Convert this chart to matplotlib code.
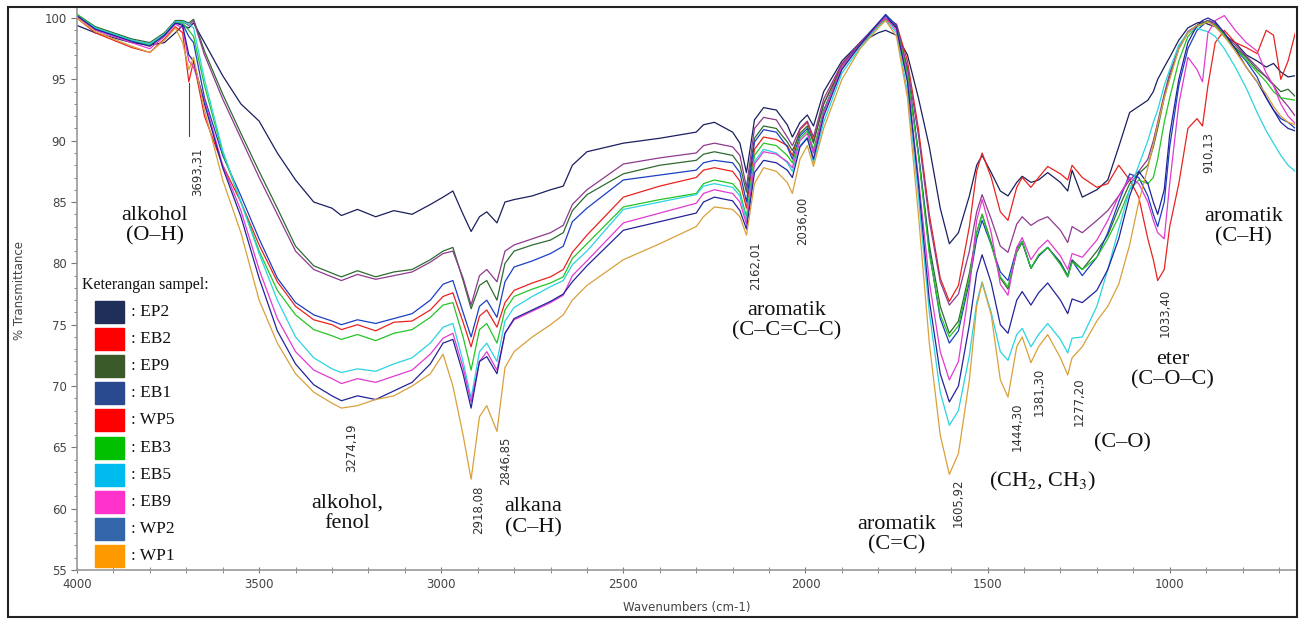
import matplotlib
matplotlib.use("Agg")
import matplotlib.pyplot as plt
from matplotlib.patches import Rectangle
from matplotlib.ticker import MultipleLocator

# wavenumber grid (cm-1)
wavenumber = [
    4000, 3950, 3900, 3850, 3800, 3760, 3730, 3710, 3693, 3680,
    3650, 3600, 3550, 3500, 3450, 3400, 3350, 3300, 3274, 3230,
    3180, 3130, 3080, 3030, 2995, 2968, 2940, 2918, 2895, 2875,
    2847, 2825, 2800, 2750, 2700, 2665, 2640, 2600, 2500, 2400,
    2300, 2280, 2250, 2200, 2180, 2162, 2140, 2115, 2080, 2050,
    2036, 2015, 1995, 1978, 1950, 1900, 1850, 1800, 1780, 1750,
    1720, 1690, 1660, 1630, 1605, 1580, 1550, 1530, 1515, 1490,
    1465, 1444, 1420, 1405, 1381, 1360, 1335, 1300, 1280, 1268,
    1240, 1200, 1170, 1140, 1110, 1085, 1060, 1045, 1033, 1015,
    1000, 975, 950, 925, 910, 895, 875, 850, 820, 790,
    760, 735, 715, 695, 675, 655]

ep2 = [
    99.4, 98.8, 98.4, 98.0, 97.8, 98.0, 98.8, 99.4, 99.2, 99.6,
    98.0, 95.3, 93.0, 91.6, 89.0, 86.8, 85.0, 84.5, 83.9, 84.4,
    83.8, 84.3, 84.0, 84.8, 85.4, 85.9, 84.0, 82.6, 83.8, 84.2,
    83.3, 85.0, 85.2, 85.5, 86.0, 86.3, 88.0, 89.1, 89.8, 90.2,
    90.7, 91.3, 91.5, 90.7, 89.8, 87.4, 91.7, 92.7, 92.5, 91.3,
    90.3, 91.5, 92.1, 91.2, 94.0, 96.5, 98.0, 98.8, 99.0, 98.6,
    97.0, 93.5, 89.5, 84.5, 81.6, 82.5, 85.5, 88.0, 88.8, 87.4,
    85.9, 85.5, 86.6, 87.1, 86.6, 86.8, 87.4, 86.6, 85.9, 87.6,
    85.4, 86.0, 86.8, 89.5, 92.3, 92.8, 93.3, 94.0, 95.0, 96.0,
    96.8, 98.2, 99.2, 99.6, 99.7, 99.5, 99.3, 98.6, 98.0, 97.0,
    96.5, 96.0, 96.3, 95.6, 95.2, 95.3]

ep9 = [
    100.3, 99.3, 98.8, 98.3, 98.0, 98.8, 99.8, 99.8, 99.6, 99.9,
    97.3, 93.8, 90.6, 87.5, 84.5, 81.4, 79.8, 79.2, 78.9, 79.4,
    78.9, 79.3, 79.5, 80.3, 81.0, 81.3, 78.6, 76.3, 78.2, 78.6,
    77.0, 80.0, 81.0, 81.5, 81.9, 82.5, 84.3, 85.6, 87.3, 88.0,
    88.4, 88.9, 89.1, 88.8, 88.0, 85.8, 90.2, 91.2, 91.0, 89.9,
    89.2, 90.6, 91.2, 89.8, 93.0, 96.0, 97.8, 99.4, 99.9, 99.2,
    95.5, 89.0, 81.5, 76.5, 74.3, 75.3, 79.2, 82.5, 84.0, 81.7,
    78.8, 77.9, 80.9, 81.7, 79.6, 80.6, 81.3, 80.1, 79.0, 80.3,
    79.5, 81.0, 82.3, 84.5, 86.5, 87.3, 88.0, 89.5, 91.0, 93.5,
    95.2, 97.5, 98.8, 99.4, 99.6, 99.8, 99.4, 98.5, 97.6, 96.8,
    95.8, 95.2, 94.6, 94.0, 94.2, 93.6]

wp5 = [
    100.2, 99.2, 98.7, 98.2, 97.9, 98.7, 99.7, 99.7, 99.4, 99.8,
    97.0, 93.4, 90.2, 87.0, 84.0, 81.0, 79.5, 78.9, 78.6, 79.1,
    78.7, 79.0, 79.3, 80.1, 80.8, 81.0, 78.8, 76.6, 79.0, 79.5,
    78.5, 81.0, 81.5, 82.0, 82.5, 83.1, 84.8, 86.0, 88.1, 88.6,
    89.0, 89.6, 89.8, 89.5, 88.8, 86.2, 91.0, 91.9, 91.7, 90.3,
    89.6, 91.0, 91.6, 90.3, 93.4, 96.3, 98.0, 99.5, 100.0, 99.3,
    96.0, 90.5, 83.5, 78.5, 76.6, 77.5, 81.0, 84.2, 85.6, 83.6,
    81.4, 80.9, 83.2, 83.8, 83.1, 83.5, 83.8, 82.7, 81.7, 83.0,
    82.5, 83.5, 84.3, 85.5, 86.8, 87.5, 88.5, 90.0, 91.5, 93.8,
    95.5, 97.6, 98.9, 99.4, 99.5, 99.8, 99.5, 98.7, 97.8, 96.9,
    96.0, 95.2, 94.5, 93.5, 92.8, 92.0]

eb1 = [
    100.2, 99.1, 98.6, 98.2, 97.8, 98.6, 99.6, 99.5, 98.5, 98.0,
    93.5, 88.8, 85.5, 82.0, 78.8, 76.8, 75.8, 75.3, 75.0, 75.4,
    75.1, 75.5, 75.9, 77.0, 78.3, 78.6, 76.0, 74.0, 76.5, 77.0,
    75.6, 78.5, 79.7, 80.2, 80.8, 81.4, 83.4, 84.5, 86.8, 87.2,
    87.6, 88.2, 88.4, 88.2, 87.4, 85.0, 89.9, 90.9, 90.7, 89.5,
    88.5, 90.4, 91.0, 89.0, 92.5, 96.0, 98.0, 99.6, 100.3, 99.4,
    95.8, 89.0, 81.0, 75.5, 73.5, 74.5, 78.5, 82.0, 83.5, 81.5,
    79.3, 78.6, 81.2, 81.8, 79.6, 80.6, 81.3, 80.0, 78.9, 80.2,
    79.0, 80.5, 82.5, 85.0, 87.3, 87.0, 85.5, 84.0, 83.0, 85.0,
    89.5, 94.5, 97.5, 99.0, 99.4, 99.8, 99.6, 98.6, 97.5, 96.5,
    95.2, 93.5, 92.5, 91.8, 91.5, 91.0]

eb2 = [
    100.0, 98.8, 98.2, 97.6, 97.2, 98.3, 99.3, 98.8, 94.8, 96.5,
    92.0, 88.0, 85.0, 81.5, 78.5, 76.5, 75.4, 75.0, 74.6, 75.0,
    74.5, 75.2, 75.3, 76.2, 77.3, 77.6, 75.2, 73.2, 75.7, 76.2,
    74.8, 76.8, 77.8, 78.4, 78.9, 79.5, 80.9, 82.3, 85.4, 86.3,
    87.0, 87.6, 87.8, 87.5, 86.7, 84.5, 89.3, 90.3, 90.1, 89.6,
    88.8, 90.9, 91.5, 90.0, 93.0, 96.2, 98.0, 99.5, 100.0, 99.5,
    96.5, 91.0, 84.0, 78.8, 76.9, 78.2, 83.0, 87.5, 89.0, 87.0,
    84.2, 83.5, 86.2, 87.0, 86.2, 87.0, 87.9, 87.3, 86.8, 88.0,
    87.0, 86.2, 86.5, 88.0, 86.8, 85.4, 82.0, 80.3, 78.6, 79.5,
    83.0, 86.5, 91.0, 91.8, 91.2, 94.5, 98.0, 99.0, 98.0, 97.6,
    97.1, 99.0, 98.6, 95.0, 96.5, 98.8]

eb3 = [
    100.3, 99.2, 98.7, 98.2, 97.8, 98.7, 99.7, 99.6, 99.0, 98.5,
    94.5, 89.0, 85.0, 81.0, 77.8, 75.8, 74.6, 74.1, 73.8, 74.2,
    73.7, 74.3, 74.6, 75.6, 76.6, 76.8, 74.0, 71.3, 74.6, 75.1,
    73.5, 76.2, 77.3, 77.9, 78.4, 78.9, 80.4, 81.6, 84.6, 85.2,
    85.7, 86.5, 86.8, 86.5, 85.8, 83.8, 88.8, 89.8, 89.6, 88.8,
    88.2, 90.2, 90.8, 89.3, 92.4, 96.0, 97.8, 99.4, 99.9, 99.2,
    95.5, 88.8, 80.8, 75.8, 74.0, 74.9, 78.8, 82.5, 84.0, 81.5,
    78.9, 78.1, 81.0, 81.8, 79.6, 80.7, 81.3, 79.9, 78.9, 80.1,
    79.5, 80.5, 82.0, 83.8, 86.0, 86.8, 86.5, 87.0, 88.5, 91.5,
    93.5, 96.5, 98.5, 99.3, 99.5, 99.7, 99.4, 98.6, 97.5, 96.6,
    95.6, 94.8, 94.0, 93.5, 93.4, 93.3]

eb5 = [
    100.2, 99.2, 98.7, 98.2, 97.9, 98.7, 99.7, 99.7, 99.5, 99.2,
    95.0, 89.2, 85.0, 80.8, 77.0, 74.0, 72.3, 71.4, 71.1, 71.4,
    71.2, 71.8, 72.3, 73.5, 74.8, 75.1, 72.0, 69.0, 72.8, 73.5,
    72.0, 75.3, 76.4, 77.3, 78.1, 78.6, 79.9, 81.0, 84.4, 85.0,
    85.6, 86.3, 86.5, 86.2, 85.5, 83.5, 88.3, 89.3, 89.0, 88.2,
    87.5, 89.6, 90.3, 88.2, 91.5, 95.5, 97.6, 99.3, 99.8, 98.8,
    94.0, 85.5, 76.0, 69.5, 66.8, 68.0, 72.5, 76.8, 78.5, 76.0,
    72.8, 72.1, 74.2, 74.7, 73.2, 74.2, 75.1, 73.8, 72.7, 73.9,
    74.0, 76.5, 79.5, 82.8, 86.0, 88.0, 90.0, 91.5, 92.5, 94.5,
    95.8, 97.8, 98.8, 99.2, 99.0, 98.9, 98.5, 97.5, 96.0, 94.3,
    92.3, 90.8, 89.8, 88.8, 88.0, 87.5]

eb9 = [
    100.1, 99.0, 98.5, 98.0, 97.5, 98.5, 99.5, 99.2, 96.5, 96.0,
    93.3, 88.0, 84.3, 79.5, 75.5, 72.8, 71.3, 70.6, 70.2, 70.6,
    70.3, 70.8, 71.3, 72.6, 73.9, 74.3, 71.5, 68.7, 72.0, 72.8,
    71.3, 74.3, 75.4, 76.1, 76.8, 77.4, 79.0, 80.2, 83.3, 84.1,
    84.9, 85.7, 86.0, 85.7, 85.0, 83.2, 88.1, 89.1, 88.9, 88.3,
    87.8, 90.0, 90.6, 89.0, 92.3, 96.0, 97.8, 99.5, 100.0, 99.0,
    95.0, 87.0, 78.5, 72.8, 70.5, 72.0, 78.0, 83.5, 85.2, 82.5,
    78.3, 77.4, 81.3, 82.1, 80.3, 81.2, 81.9, 80.6, 79.5, 80.8,
    80.5, 81.9, 83.5, 85.5, 87.0, 86.5, 85.0, 83.5, 82.5, 82.0,
    86.5, 93.0, 96.8, 95.8, 94.8, 98.8, 99.8, 100.2, 99.0, 98.0,
    97.3, 95.5, 94.5, 93.0, 92.0, 91.4]

wp2 = [
    100.2, 99.1, 98.6, 98.1, 97.7, 98.6, 99.6, 99.4, 97.0, 96.5,
    93.0, 87.8, 83.8, 78.8, 74.5, 71.8, 70.1, 69.2, 68.8, 69.2,
    68.9, 69.6, 70.3, 71.8, 73.5, 73.8, 71.0, 68.2, 72.0, 72.4,
    71.0, 74.3, 75.5, 76.2, 76.9, 77.5, 78.5, 79.8, 82.7, 83.4,
    84.1, 85.0, 85.4, 85.1, 84.3, 82.8, 87.4, 88.4, 88.2, 87.6,
    87.0, 89.5, 90.2, 88.5, 92.0, 95.8, 97.8, 99.6, 100.2, 99.2,
    94.8, 86.5, 77.0, 71.0, 68.7, 70.0, 75.0, 79.2, 80.7, 78.4,
    75.0, 74.3, 77.0, 77.7, 76.6, 77.6, 78.4, 77.0, 75.9, 77.1,
    76.8, 77.8, 79.5, 82.0, 85.5, 87.5, 86.5, 85.0, 84.0, 86.0,
    90.5, 95.0, 98.0, 99.4, 99.8, 100.0, 99.7, 98.8, 97.5, 96.0,
    94.8, 93.5, 92.5, 91.5, 91.0, 90.8]

wp1 = [
    100.0, 98.9, 98.3, 97.7, 97.2, 98.2, 99.2, 98.0, 95.8, 96.8,
    92.5, 86.8, 82.5, 77.0, 73.5, 71.0, 69.5, 68.6, 68.2, 68.4,
    68.9, 69.2, 70.0, 71.0, 72.6, 70.0, 66.0, 62.4, 67.5, 68.4,
    66.3, 71.5, 72.8, 74.0, 75.0, 75.8, 77.0, 78.2, 80.3, 81.6,
    83.0, 83.8, 84.6, 84.4, 83.8, 82.3, 86.5, 87.8, 87.5, 86.6,
    85.7, 88.5, 89.6, 87.9, 91.0, 95.0, 97.5, 99.2, 99.8, 98.5,
    93.5, 84.0, 73.5, 66.0, 62.8, 64.5, 70.5, 76.5, 78.4, 75.8,
    70.5, 69.1, 73.2, 74.0, 71.9, 73.2, 74.2, 72.3, 70.9, 72.3,
    73.2, 75.3, 76.5, 78.3, 81.5, 85.0, 87.8, 89.7, 91.3, 93.5,
    95.0, 97.5, 98.8, 99.4, 99.5, 99.7, 99.3, 98.5, 97.3, 96.0,
    94.8, 93.8, 92.8, 92.0, 91.5, 91.3]

sample_names = ["EP2", "EB2", "EP9", "EB1", "WP5", "EB3", "EB5", "EB9", "WP2", "WP1"]
sample_values = [ep2, eb2, ep9, eb1, wp5, eb3, eb5, eb9, wp2, wp1]
line_colors = ["#1a1f5e", "#e8231f", "#2e6b30", "#1c3fc4", "#8e3a8e",
               "#25c425", "#2ad4e0", "#e23ad0", "#23239a", "#d9a03a"]
legend_colors = ["#1f2f5a", "#ff0000", "#3a5a2a", "#2a4a90", "#ff0000",
                 "#00c000", "#00bbee", "#ff33cc", "#3366aa", "#ff9900"]

peak_labels = ["3693,31", "3274,19", "2918,08", "2846,85", "2162,01", "2036,00",
               "1605,92", "1444,30", "1381,30", "1277,20", "1033,40", "910,13"]

group_labels = ["alkohol\n(O–H)", "alkohol,\nfenol", "alkana\n(C–H)",
                "aromatik\n(C–C=C–C)", "aromatik\n(C=C)", "(CH$_2$, CH$_3$)",
                "(C–O)", "eter\n(C–O–C)", "aromatik\n(C–H)"]

for v in sample_values:
    assert len(v) == len(wavenumber)

W, H = 1299, 620
fig = plt.figure(figsize=(W / 100, H / 100), dpi=100)
ax = fig.add_axes([77 / W, 1 - 570 / H, (1295 - 77) / W, (570 - 8) / H])

for vals, col in zip(sample_values, line_colors):
    ax.plot(wavenumber, vals, color=col, lw=0.9)

ax.set_xlim(4000, 656)
ax.set_ylim(55, 100.82)
ax.xaxis.set_major_locator(MultipleLocator(500))
ax.xaxis.set_minor_locator(MultipleLocator(100))
ax.yaxis.set_major_locator(MultipleLocator(5))
ax.yaxis.set_minor_locator(MultipleLocator(1))
for s in ["top", "right"]:
    ax.spines[s].set_visible(False)
for s in ["left", "bottom"]:
    ax.spines[s].set_color("#999999")
    ax.spines[s].set_linewidth(1.2)
ax.tick_params(which="both", colors="#777777", labelcolor="#444444", labelsize=8.5)
ax.tick_params(axis="x", which="both", direction="inout", length=4)
ax.tick_params(axis="y", which="major", direction="out", length=4)
ax.tick_params(axis="y", which="minor", direction="out", length=2)

# peak labels (rotated), placed in data coordinates
peak_pos = [(3670, 87.5), (3245, 65.0), (2896, 59.9), (2822, 63.9), (2138, 79.8),
            (2009, 83.5), (1581, 60.5), (1419, 66.7), (1359, 69.5), (1249, 68.7),
            (1013, 76.0), (892, 89.0)]
for lbl, (x, y) in zip(peak_labels, peak_pos):
    ax.text(x, y, lbl, rotation=90, ha="center", va="center", fontsize=8.5, color="#333333")
ax.plot([3693.31, 3693.31], [94.7, 90.4], color="#444444", lw=0.8)

serif = ["Liberation Serif", "DejaVu Serif"]
plt.rcParams["mathtext.fontset"] = "stix"
group_pos = [(3786, 83.1), (3259, 59.65), (2748, 59.3), (2051, 75.3), (1749, 57.9),
             (1348, 62.2), (1131, 65.4), (993, 71.3), (798, 83.0)]
for lbl, (x, y) in zip(group_labels, group_pos):
    ax.text(x, y, lbl, ha="center", va="center", fontsize=16, family=serif,
            linespacing=1.1, color="#111111")

# sample key
fig.text(82 / W, 1 - 285 / H, "Keterangan sampel:", fontsize=11.5, family=serif,
         va="center", color="#111111")
for i, (name, col) in enumerate(zip(sample_names, legend_colors)):
    yc = 312 + 27.1 * i
    fig.add_artist(Rectangle((95 / W, 1 - (yc + 11) / H), 29 / W, 22 / H,
                             transform=fig.transFigure, color=col))
    fig.text(131 / W, 1 - yc / H, ": " + name, fontsize=12.5, family=serif,
             va="center", color="#111111")

fig.text(20 / W, 1 - 290 / H, "% Transmittance", rotation=90, ha="center", va="center",
         fontsize=8.5, color="#444444")
fig.text(687 / W, 1 - 607 / H, "Wavenumbers (cm-1)", ha="center", va="center",
         fontsize=8.5, color="#444444")

fig.add_artist(Rectangle((8 / W, 1 - 617 / H), (1297 - 8) / W, (617 - 7) / H, fill=False,
                         ec="#222222", lw=1.5, transform=fig.transFigure))

fig.savefig("out.png", dpi=100)
